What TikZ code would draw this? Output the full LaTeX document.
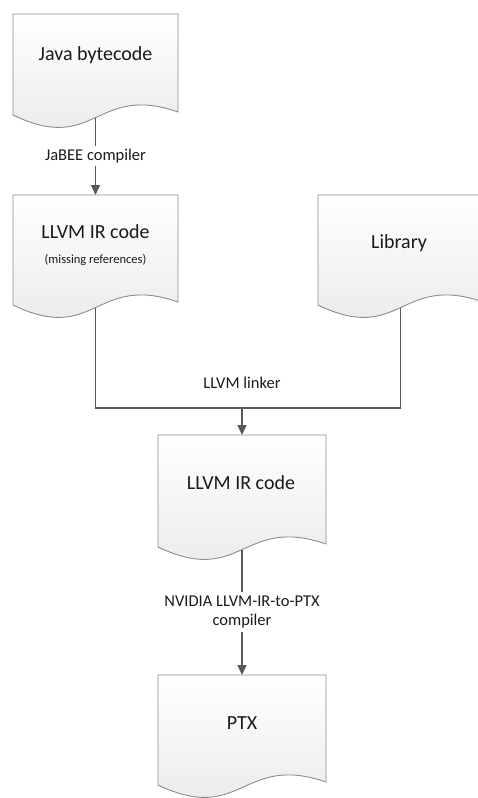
\documentclass[tikz,border=0pt]{standalone}
\usepackage{fontspec}
\setmainfont{Carlito}
\usetikzlibrary{arrows.meta,calc}
\definecolor{boxline}{HTML}{8C8C8C}
\definecolor{conn}{HTML}{595959}
\definecolor{txt}{HTML}{1A1A1A}
\tikzset{
  docshape/.style={minimum width=165pt, inner sep=0pt, outer sep=0pt},
  docdraw/.style={draw=boxline, line width=0.9pt, top color=white, bottom color=black!9},
  title/.style={font=\fontsize{20}{24}\selectfont, text=txt, inner sep=0pt},
  small/.style={font=\fontsize{12.5}{15}\selectfont, text=txt, inner sep=0pt},
  lab/.style={font=\fontsize{16.5}{19}\selectfont, text=txt, fill=white, inner sep=3pt, align=center},
  conline/.style={draw=conn, line width=1.3pt},
  arr/.style={conline, -{Triangle[length=10pt,width=9pt]}},
}
\newcommand\drawdoc[1]{%
  \path[docdraw] (#1.north west) -- (#1.south west)
    .. controls ($(#1.south)+(0,40)$) and ($(#1.south)+(0,-32)$) ..
    ($(#1.south east)+(0,-3)$) -- (#1.north east) -- cycle;
  \coordinate (#1-w) at ($(#1.south)+(0,2.6)$);
}
\begin{document}
\begin{tikzpicture}[x=1pt,y=-1pt]
\useasboundingbox (0,0) rectangle (477,798);
% boxes
\node[docshape, minimum height=101pt] (doc1) at (95.5,64.5) {};
\node[docshape, minimum height=110pt] (doc2) at (95.5,250) {};
\node[docshape, minimum height=110pt] (lib) at (400.5,250) {};
\node[docshape, minimum width=168pt, minimum height=112pt] (doc3) at (242,491) {};
\node[docshape, minimum width=168pt, minimum height=110pt] (ptx) at (242,730) {};
\drawdoc{doc1}
\drawdoc{doc2}
\drawdoc{lib}
\drawdoc{doc3}
\drawdoc{ptx}
% texts
\node[title] (t1) at (95.5,55) {Java bytecode};
\node[title] (t2) at (95.5,232) {LLVM IR code};
\node[small] (t2b) at (95.5,260) {(missing references)};
\node[title] (t3) at (399,243) {Library};
\node[title] (t4) at (241,483) {LLVM IR code};
\node[title] (t5) at (242,723) {PTX};
% connectors
\draw[arr] (doc1-w) -- node[lab] (l1) {JaBEE compiler} (doc2.north);
\coordinate (j) at (242,408);
\draw[conline] (doc2-w) |- (j) -| (lib-w);
\node[lab, fill=none] (l2) at (242,383) {LLVM linker};
\draw[arr] (j) -- (doc3.north);
\draw[arr] (doc3-w) -- node[lab, pos=0.5, inner sep=4pt] (l3) {NVIDIA LLVM-IR-to-PTX\\compiler} (ptx.north);
\end{tikzpicture}
\end{document}
